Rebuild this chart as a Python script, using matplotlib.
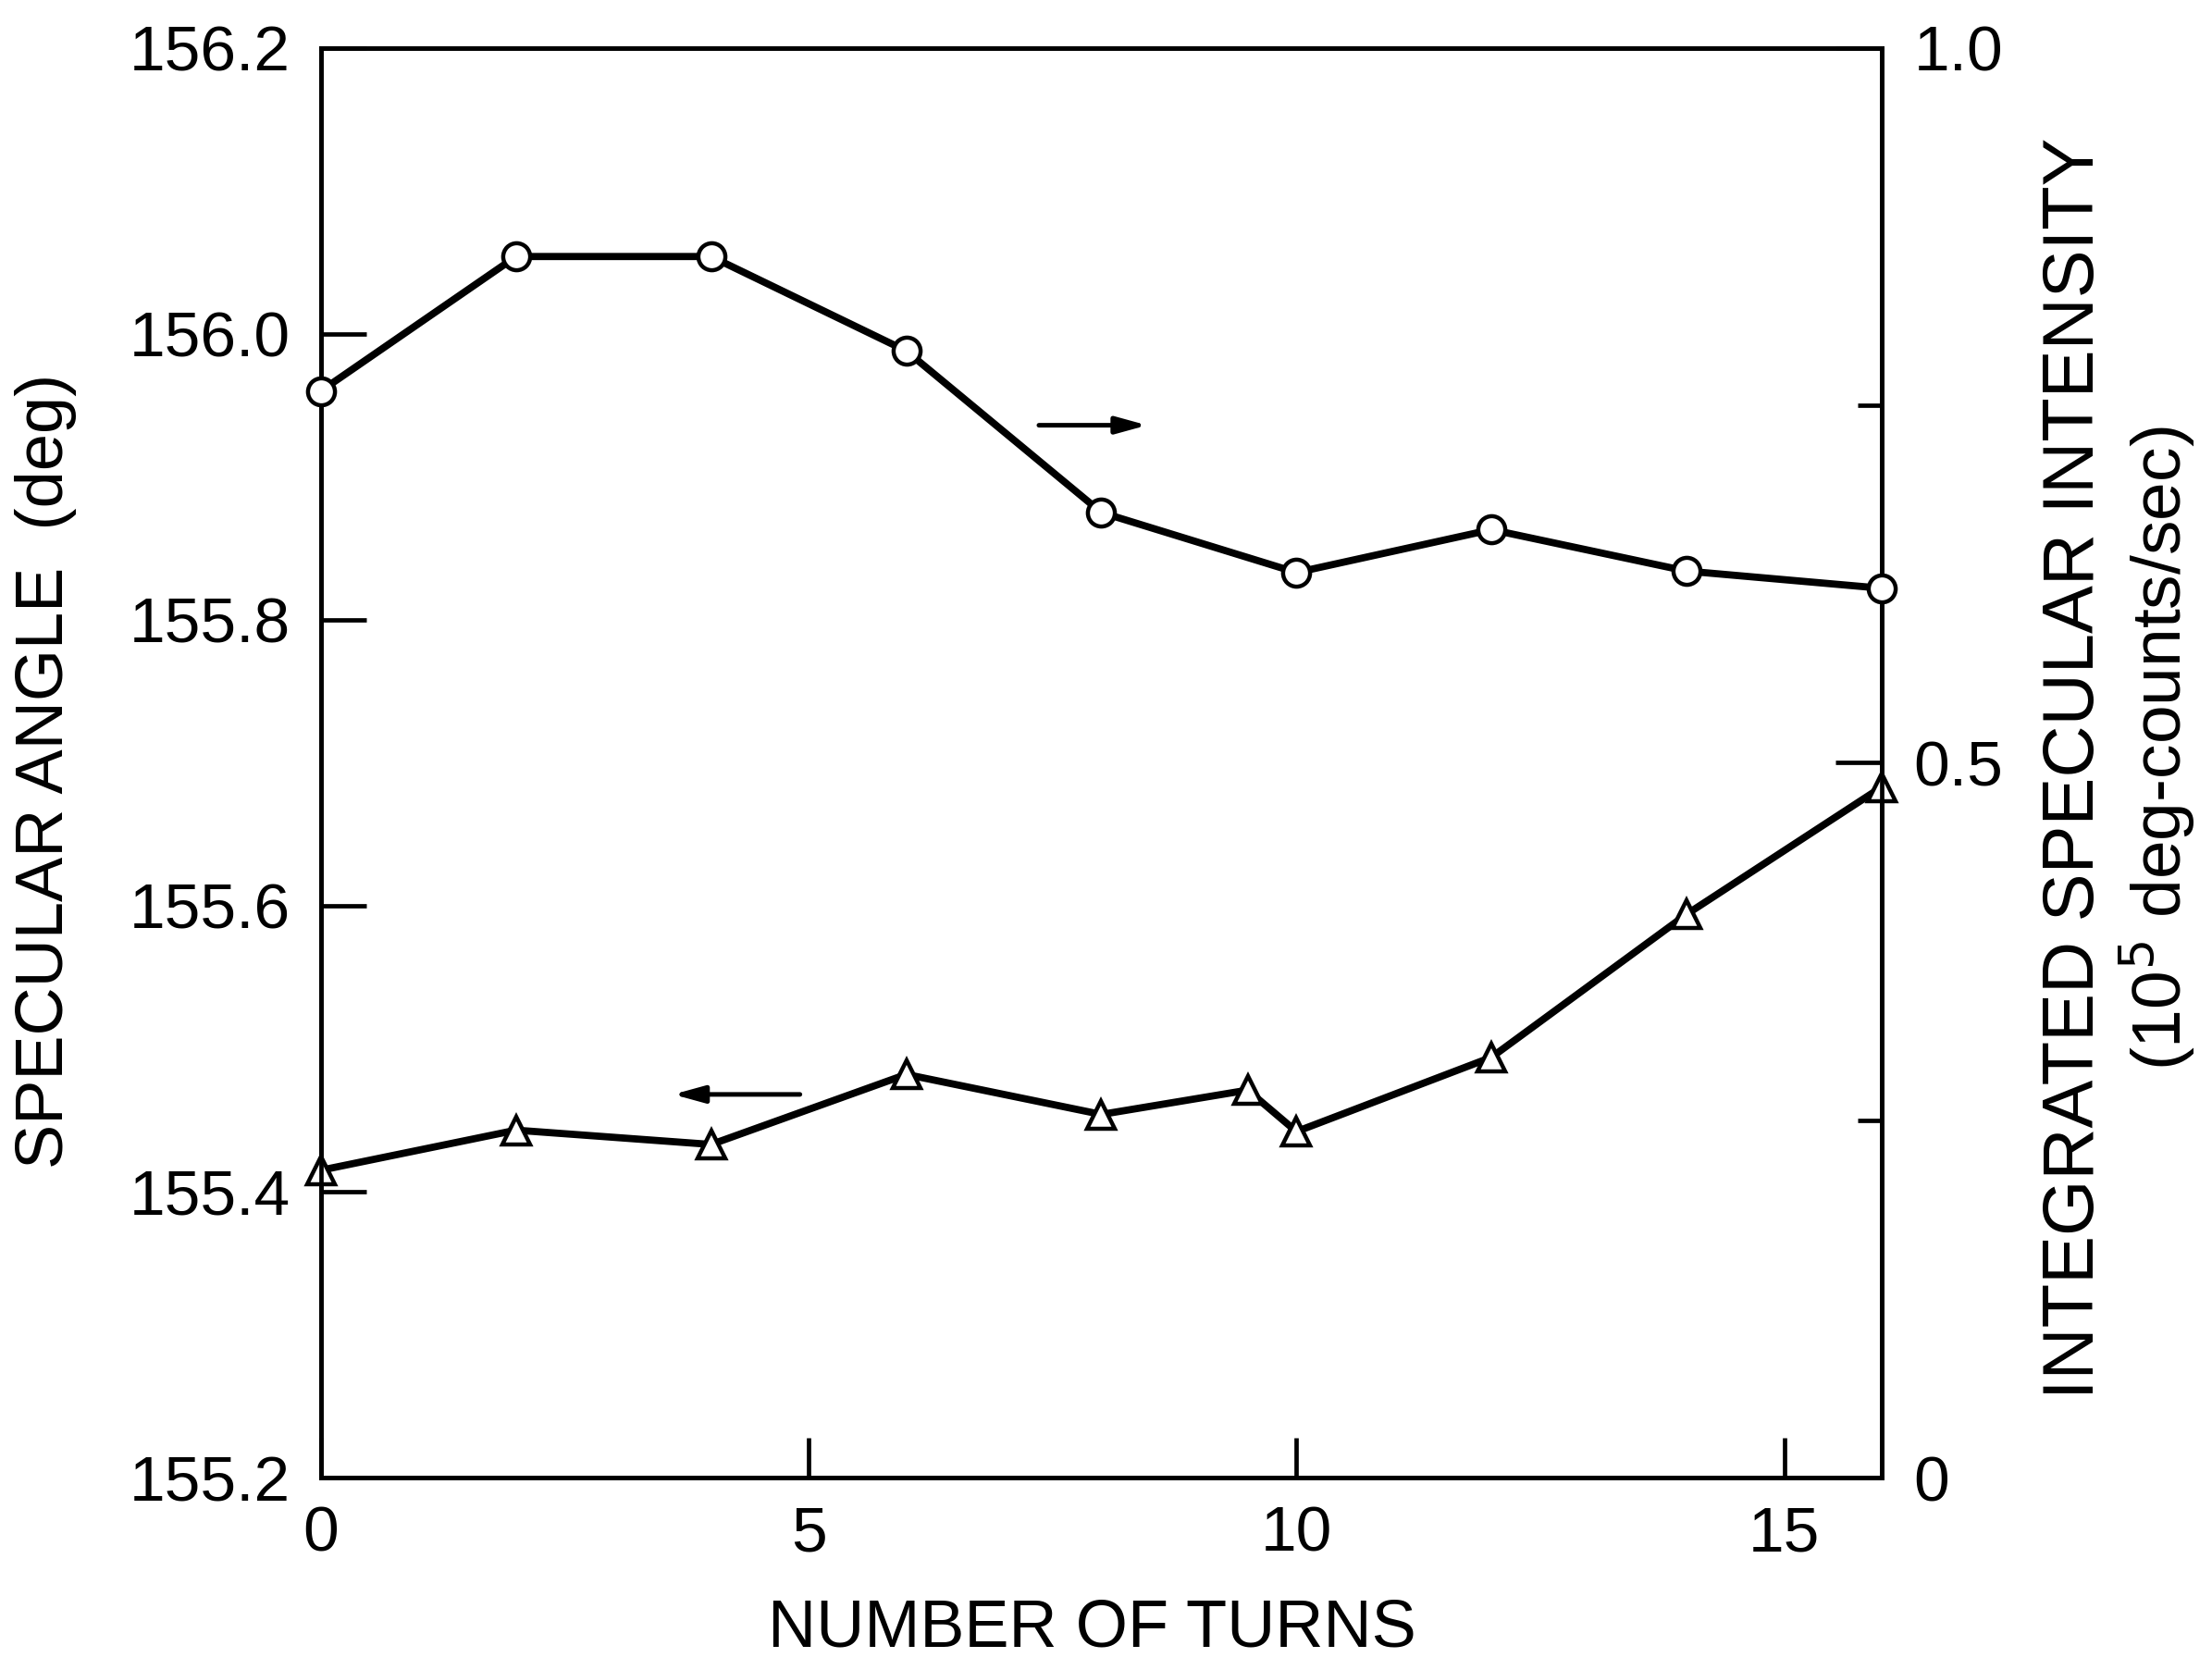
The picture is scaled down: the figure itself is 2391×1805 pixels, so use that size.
import matplotlib
matplotlib.use("Agg")
import matplotlib.pyplot as plt
from matplotlib.ticker import FixedLocator, NullFormatter

plt.rcParams['font.family'] = ['Liberation Sans', 'DejaVu Sans']

# ---- data ----
turns_intensity = [0, 2, 4, 6, 8, 10, 12, 14, 16]
intensity = [0.760, 0.854, 0.854, 0.788, 0.675, 0.633, 0.663, 0.634, 0.622]

turns_angle = [0, 2, 4, 6, 8, 9.5, 10, 12, 14, 16]
angle = [155.415, 155.443, 155.433, 155.482, 155.454, 155.471, 155.442,
         155.494, 155.594, 155.683]

x_ticks = [0, 5, 10, 15]
left_ticks = [155.2, 155.4, 155.6, 155.8, 156.0, 156.2]
left_ticklabels = ['155.2', '155.4', '155.6', '155.8', '156.0', '156.2']
right_major = [0, 0.5, 1.0]
right_major_labels = ['0', '0.5', '1.0']
right_minor = [0.25, 0.75]

# ---- figure ----
DPI = 100
fig = plt.figure(figsize=(23.91, 18.05), dpi=DPI, facecolor='white')
ax = fig.add_axes([0.1451, 0.1152, 0.7056, 0.8562])
ax2 = ax.twinx()

LW_SPINE = 3.4
LW_DATA = 5.6

for a in (ax, ax2):
    for s in a.spines.values():
        s.set_linewidth(LW_SPINE)
        s.set_color('black')

ax.set_xlim(0, 16)
ax.set_ylim(155.2, 156.2)
ax2.set_ylim(0, 1.0)

ax.set_xticks(x_ticks)
ax.set_xticklabels([str(t) for t in x_ticks])
ax.set_yticks(left_ticks)
ax.set_yticklabels(left_ticklabels)

ax2.yaxis.set_major_locator(FixedLocator(right_major))
ax2.set_yticklabels(right_major_labels)
ax2.yaxis.set_minor_locator(FixedLocator(right_minor))
ax2.yaxis.set_minor_formatter(NullFormatter())

ax.tick_params(axis='x', direction='in', length=31, width=LW_SPINE,
               labelsize=50, pad=21, top=False)
ax.tick_params(axis='y', direction='in', length=35, width=LW_SPINE,
               labelsize=50, pad=24, right=False)
ax2.tick_params(axis='y', which='major', direction='in', length=36,
                width=LW_SPINE, labelsize=50, pad=25)
ax2.tick_params(axis='y', which='minor', direction='in', length=19,
                width=LW_SPINE)

# intensity (right axis), open circles
ax2.plot(turns_intensity, intensity, color='black', lw=LW_DATA,
         marker='o', markersize=21, markerfacecolor='white',
         markeredgecolor='black', markeredgewidth=3.2, clip_on=False,
         zorder=5)

# specular angle (left axis), open triangles
ax.plot(turns_angle, angle, color='black', lw=LW_DATA,
        marker='^', markersize=21, markerfacecolor='white',
        markeredgecolor='black', markeredgewidth=3.2, clip_on=False,
        zorder=5)

# direction arrows
ax2.annotate('', xy=(8.47, 0.736), xytext=(7.36, 0.736),
             arrowprops=dict(arrowstyle='-|>,head_length=2.0,head_width=0.55',
                             color='black', lw=3.6, shrinkA=0, shrinkB=0))
ax.annotate('', xy=(3.61, 155.468), xytext=(4.91, 155.468),
            arrowprops=dict(arrowstyle='-|>,head_length=2.0,head_width=0.55',
                            color='black', lw=3.6, shrinkA=0, shrinkB=0))

# labels
fig.text(0.0209, 0.5385, 'SPECULAR ANGLE  (deg)', rotation=90,
         ha='center', va='center', fontsize=52)
fig.text(0.4937, 0.0244, 'NUMBER OF TURNS', ha='center', va='center',
         fontsize=52)
fig.text(0.9377, 0.540, 'INTEGRATED SPECULAR INTENSITY', rotation=90,
         ha='center', va='center', fontsize=56)
fig.text(0.9757, 0.552, r'(10$^{5}$ deg-counts/sec)', rotation=90,
         ha='center', va='center', fontsize=54)

fig.savefig('out.png', dpi=DPI, facecolor='white')
